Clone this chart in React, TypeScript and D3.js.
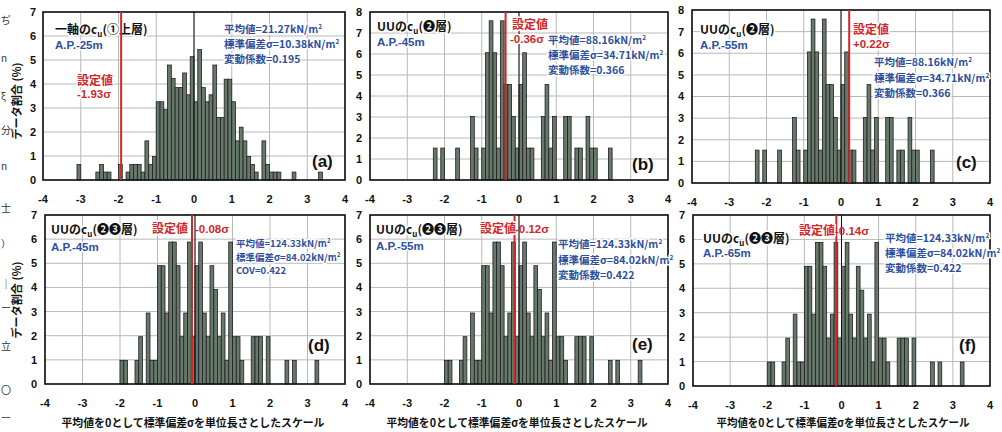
import React from "react";
import * as d3 from "d3";

const W = 1002;
const H = 432;

const JP = "'Noto Sans CJK JP', 'Noto Sans', sans-serif";
const LAT = "'Liberation Sans', Arial, sans-serif";
const BLUE = "#2d4f9e";
const RED = "#d0282a";
const BAR = "#67796b";

// histogram bins: left edge (in sigma units, width 0.1) and share of data (%)
const edgesA = [-3.1, -2.6, -2.5, -2.4, -2.3, -2.0, -1.8, -1.7, -1.6, -1.5, -1.4, -1.3, -1.2, -1.1,
  -1.0, -0.9, -0.8, -0.7, -0.6, -0.5, -0.4, -0.3, -0.2, -0.1,
  0.0, 0.1, 0.2, 0.3, 0.4, 0.5, 0.6, 0.7, 0.8, 0.9,
  1.0, 1.1, 1.2, 1.3, 1.4, 1.5, 1.6, 1.8, 1.9, 2.0, 2.1, 2.2, 2.6, 3.3];
const pctA = [0.65, 0.33, 0.65, 0.33, 0.33, 0.65, 0.33, 0.65, 0.65, 0.65, 0.33, 1.63, 0.65, 0.98,
  3.26, 3.26, 2.93, 4.79, 4.23, 3.85, 3.85, 4.46, 3.55, 5.14,
  3.26, 5.44, 3.85, 3.26, 3.55, 4.79, 2.6, 2.6, 4.2, 4.2,
  3.26, 1.63, 2.2, 1.63, 0.98, 0.65, 0.33, 1.63, 0.65, 0.33, 0.33, 0.33, 0.33, 0.33];

// layer 2 (panels b, c)
const edgesB = [-2.3, -2.1, -1.7, -1.3, -1.2, -1.0, -0.9, -0.8, -0.7, -0.6, -0.5, -0.4, -0.3, -0.2, -0.1,
  0.0, 0.1, 0.2, 0.3, 0.6, 0.7, 0.8, 0.9, 1.2, 1.3, 1.5, 1.6, 1.8, 1.9, 2.0, 2.4];
const pctB = [1.52, 1.52, 1.52, 3.03, 1.52, 1.52, 6.06, 7.58, 6.06, 1.52, 7.58, 4.55, 4.55, 3.03, 1.52,
  4.55, 6.06, 1.52, 1.52, 3.03, 4.55, 1.52, 3.03, 3.03, 3.03, 1.52, 1.52, 3.03, 1.52, 1.52, 1.52];

// layers 2+3 (panels d, e, f)
const edgesD = [-2.0, -1.9, -1.6, -1.5, -1.3, -1.2, -1.1,
  -1.0, -0.9, -0.8, -0.7, -0.6, -0.5, -0.4, -0.3, -0.2, -0.1,
  0.0, 0.1, 0.2, 0.3, 0.4, 0.5, 0.6, 0.7, 0.8, 0.9,
  1.0, 1.1, 1.2, 1.5, 1.6, 1.7, 1.9, 2.4, 2.6, 3.2];
const pctD = [0.98, 0.98, 0.98, 1.96, 2.94, 0.98, 0.98,
  4.9, 4.9, 2.94, 5.88, 5.88, 4.9, 1.96, 2.94, 5.88, 1.96,
  4.9, 5.88, 2.94, 1.96, 4.9, 3.92, 1.96, 2.94, 0.98, 5.88,
  1.96, 1.96, 0.98, 1.96, 1.96, 1.96, 1.96, 0.98, 0.98, 0.98];

const xTicks = [-4, -3, -2, -1, 0, 1, 2, 3, 4];
const binWidth = 0.1;

const setValues = [-1.93, -0.36, 0.22, -0.08, -0.12, -0.14];
const setLabels = ["-1.93σ", "-0.36σ", "+0.22σ", "-0.08σ", "-0.12σ", "-0.14σ"];
const depths = ["A.P.-25m", "A.P.-45m", "A.P.-55m", "A.P.-45m", "A.P.-55m", "A.P.-65m"];
const letters = ["(a)", "(b)", "(c)", "(d)", "(e)", "(f)"];

const statsA = [["平均値=21.27kN/m", "2"], ["標準偏差σ=10.38kN/m", "2"], ["変動係数=0.195", ""]];
const statsB = [["平均値=88.16kN/m", "2"], ["標準偏差σ=34.71kN/m", "2"], ["変動係数=0.366", ""]];
const statsD = [["平均値=124.33kN/m", "2"], ["標準偏差σ=84.02kN/m", "2"], ["COV=0.422", ""]];
const statsE = [["平均値=124.33kN/m", "2"], ["標準偏差σ=84.02kN/m", "2"], ["変動係数=0.422", ""]];

const xTitle = "平均値を0として標準偏差σを単位長さとしたスケール";
const yTitle = "データ割合 (%)";
const scanChars = ["ぢ", "n", "ξ", "分", "n", "士", "）", "｜", "ー", "立", "〇", "ー"];
const scanY = [24, 62, 100, 134, 170, 212, 248, 288, 312, 350, 394, 422];

type Panel = {
  x0: number; x1: number; y0: number; y1: number; yMax: number; tickX: number;
  edges: number[]; pct: number[]; idx: number;
  title: [string, string];
  titleXY: [number, number]; apY: number;
  stats: string[][]; statsX: number; statsY: number[]; statsSize: number;
  setXY: [number, number][]; inline: boolean;
  letterXY: [number, number];
};

const panels: Panel[] = [
  { x0: 43, x1: 345, y0: 12, y1: 180, yMax: 7, tickX: 36, edges: edgesA, pct: pctA, idx: 0,
    title: ["一軸のc", "(①上層)"], titleXY: [55, 34], apY: 49,
    stats: statsA, statsX: 224, statsY: [33, 48, 63], statsSize: 10.5,
    setXY: [[77, 85], [77, 98]], inline: false, letterXY: [312, 167] },
  { x0: 370, x1: 668, y0: 12, y1: 180, yMax: 8, tickX: 362, edges: edgesB, pct: pctB, idx: 1,
    title: ["UUのc", "(❷層)"], titleXY: [377, 31], apY: 46,
    stats: statsB, statsX: 548, statsY: [44, 59, 74], statsSize: 10.5,
    setXY: [[512, 29], [510, 43]], inline: false, letterXY: [632, 170] },
  { x0: 692, x1: 990, y0: 10, y1: 183, yMax: 8, tickX: 684, edges: edgesB, pct: pctB, idx: 2,
    title: ["UUのc", "(❷層)"], titleXY: [700, 34], apY: 49,
    stats: statsB, statsX: 874, statsY: [66, 82, 97], statsSize: 10.5,
    setXY: [[853, 34], [853, 48]], inline: false, letterXY: [956, 168] },
  { x0: 45, x1: 345, y0: 215, y1: 384, yMax: 7, tickX: 37, edges: edgesD, pct: pctD, idx: 3,
    title: ["UUのc", "(❷❸層)"], titleXY: [51, 234], apY: 251,
    stats: statsD, statsX: 236, statsY: [247, 261, 274], statsSize: 9.5,
    setXY: [[152, 233], [195, 233]], inline: true, letterXY: [308, 351] },
  { x0: 370, x1: 668, y0: 215, y1: 384, yMax: 7, tickX: 362, edges: edgesD, pct: pctD, idx: 4,
    title: ["UUのc", "(❷❸層)"], titleXY: [376, 234], apY: 250,
    stats: statsE, statsX: 558, statsY: [248, 264, 279], statsSize: 10.5,
    setXY: [[480, 233], [515, 233]], inline: true, letterXY: [632, 350] },
  { x0: 693, x1: 990, y0: 215, y1: 386, yMax: 7, tickX: 685, edges: edgesD, pct: pctD, idx: 5,
    title: ["UUのc", "(❷❸層)"], titleXY: [703, 243], apY: 257,
    stats: statsE, statsX: 885, statsY: [242, 257, 272], statsSize: 10.5,
    setXY: [[799, 235], [835, 235]], inline: true, letterXY: [959, 351] },
];

const halo = { paintOrder: "stroke", stroke: "#fff", strokeWidth: 3, strokeLinejoin: "round" } as React.CSSProperties;

function Hist({ p }: { p: Panel }) {
  const x = d3.scaleLinear().domain([-4, 4]).range([p.x0, p.x1]);
  const y = d3.scaleLinear().domain([0, p.yMax]).range([p.y1, p.y0]);
  const yTicks = d3.range(0, p.yMax + 1);
  const setX = x(setValues[p.idx]);

  return (
    <g>
      {/* grid */}
      {yTicks.map((t) => (
        <line key={"gy" + t} x1={p.x0} x2={p.x1} y1={y(t)} y2={y(t)} stroke="#b8b8b8" strokeWidth={1} />
      ))}
      {xTicks.map((t) => (
        <line key={"gx" + t} x1={x(t)} x2={x(t)} y1={p.y0} y2={p.y1} stroke="#b8b8b8" strokeWidth={1} />
      ))}

      {/* bars */}
      {p.edges.map((e, i) => (
        <rect key={"b" + i} x={x(e)} width={x(e + binWidth) - x(e)} y={y(p.pct[i])}
          height={y(0) - y(p.pct[i])} fill={BAR} stroke="#1e1e1e" strokeWidth={0.8} />
      ))}

      {/* mean line */}
      <line x1={x(0)} x2={x(0)} y1={p.y0} y2={p.y1} stroke="#111" strokeWidth={1} />

      {/* frame */}
      <rect x={p.x0} y={p.y0} width={p.x1 - p.x0} height={p.y1 - p.y0} fill="none" stroke="#111" strokeWidth={1.6} />

      {/* tick labels */}
      {yTicks.map((t) => (
        <text key={"ty" + t} x={p.tickX} y={y(t)} dy="0.36em" textAnchor="end"
          fontFamily={LAT} fontWeight="bold" fontSize={11} fill="#111">{t}</text>
      ))}
      {xTicks.map((t) => (
        <text key={"tx" + t} x={x(t)} y={p.y1 + 23} textAnchor="middle"
          fontFamily={LAT} fontWeight="bold" fontSize={11} fill="#111">{t}</text>
      ))}

      {/* title */}
      <text x={p.titleXY[0]} y={p.titleXY[1]} fontFamily={JP} fontWeight="bold" fontSize={12} fill="#111" style={halo}>
        {p.title[0]}
        <tspan fontSize={8} dy={3}>u</tspan>
        <tspan dy={-3}>{p.title[1]}</tspan>
      </text>
      <text x={p.titleXY[0]} y={p.apY} fontFamily={LAT} fontWeight="bold" fontSize={11.5} fill={BLUE} style={halo}>
        {depths[p.idx]}
      </text>

      {/* statistics */}
      {p.stats.map((s, i) => (
        <text key={"s" + i} x={p.statsX} y={p.statsY[i]} fontFamily={JP} fontWeight="bold"
          fontSize={p.statsSize} fill={BLUE} style={halo}>
          {s[0]}
          {s[1] ? <tspan fontSize={p.statsSize * 0.62} dy={-4}>{s[1]}</tspan> : null}
        </text>
      ))}

      {/* set value line */}
      <line x1={setX} x2={setX} y1={p.y0} y2={p.y1} stroke={RED} strokeWidth={2} />

      {/* set value label */}
      <text x={p.setXY[0][0]} y={p.setXY[0][1]} fontFamily={JP} fontWeight="bold" fontSize={12} fill={RED} style={halo}>
        設定値
      </text>
      <text x={p.setXY[1][0]} y={p.setXY[1][1]} fontFamily={LAT} fontWeight="bold" fontSize={11.5} fill={RED}
        style={p.inline ? undefined : halo}>
        {setLabels[p.idx]}
      </text>

      <text x={p.letterXY[0]} y={p.letterXY[1]} fontFamily={LAT} fontWeight="bold" fontSize={17} fill="#111">
        {letters[p.idx]}
      </text>
    </g>
  );
}

export default function App() {
  return (
    <svg width={W} height={H} viewBox={`0 0 ${W} ${H}`}
      style={{ position: "fixed", left: 0, top: 0, background: "#fff" }}>
      <rect width={W} height={H} fill="#fff" />

      {/* bits of the scanned page text at the left edge */}
      {scanChars.map((c, i) => (
        <text key={"sc" + i} x={1} y={scanY[i]} fontFamily={JP} fontSize={10} fill="#333">{c}</text>
      ))}

      {panels.map((p) => <Hist key={p.idx} p={p} />)}

      {/* y axis titles */}
      {[101, 300].map((cy) => (
        <text key={"yt" + cy} transform={`translate(21,${cy}) rotate(-90)`} textAnchor="middle"
          fontFamily={JP} fontWeight="bold" fontSize={11} fill="#111" textLength={77} lengthAdjust="spacingAndGlyphs">
          {yTitle}
        </text>
      ))}

      {/* x axis titles */}
      {[[193, 263], [517, 261], [843, 253]].map(([cx, len]) => (
        <text key={"xt" + cx} x={cx} y={427} textAnchor="middle" fontFamily={JP} fontWeight="bold"
          fontSize={11} fill="#111" textLength={len} lengthAdjust="spacingAndGlyphs">
          {xTitle}
        </text>
      ))}
    </svg>
  );
}
